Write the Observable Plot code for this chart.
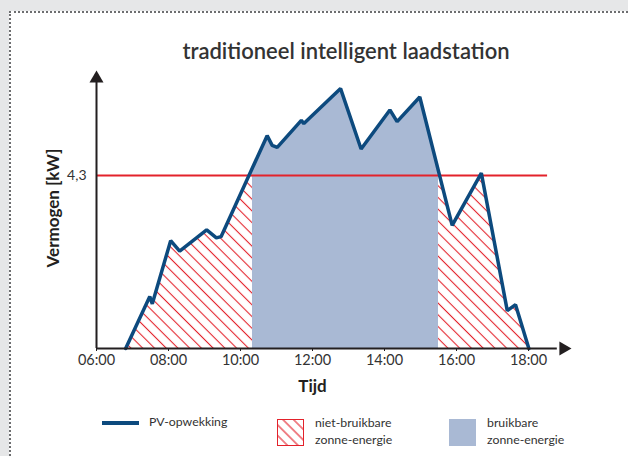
<!DOCTYPE html>
<html>
<head>
<meta charset="utf-8">
<script src="https://cdn.jsdelivr.net/npm/d3@7"></script>
<script src="https://cdn.jsdelivr.net/npm/@observablehq/plot@0.6"></script>
<style>
  html, body { margin: 0; padding: 0; }
  body { width: 628px; height: 456px; background: #e6e7e8; position: relative; overflow: hidden; font-family: Lato, "Open Sans", sans-serif; color: #222; }
  #card { position: absolute; left: 9px; top: 11px; width: 625px; height: 450px; background: #fff; border-top: 2px dotted #6d6e70; border-left: 2px dotted #6d6e70; }
  #chart { position: absolute; left: 0; top: 0; }
  .title { position: absolute; left: 146px; width: 400px; top: 37px; text-align: center; font-size: 22px; font-weight: 600; color: #333; white-space: nowrap; }
  .leg { position: absolute; font-size: 12.3px; color: #333; line-height: 17px; }
  .swatch { position: absolute; }
</style>
</head>
<body>
<div id="card"></div>
<div class="title">traditioneel intelligent laadstation</div>
<div id="chart"></div>
<div id="legend"></div>
<script>
// ---- data ----
const times = [6.81, 7.48, 7.55, 8.06, 8.31, 9.06, 9.33, 9.46, 10.74, 10.88, 11.02, 11.69, 11.76, 12.78, 13.35, 14.15, 14.35, 14.98, 15.88, 16.69, 17.41, 17.64, 18.01];
const power = [0, 1.29, 1.11, 2.68, 2.42, 2.95, 2.75, 2.78, 5.29, 5.05, 5.00, 5.67, 5.59, 6.46, 4.96, 5.93, 5.64, 6.25, 3.06, 4.36, 0.94, 1.09, 0];
const threshold = 4.3;
const usableStart = 10.333;
const usableEnd = 15.5;
const redLineEnd = 18.53;
const xTicks = [6, 8, 10, 12, 14, 16, 18];
const xTickLabels = ["06:00", "08:00", "10:00", "12:00", "14:00", "16:00", "18:00"];
const yTicks = [4.3];
const yTickLabels = ["4,3"];
const xLabel = "Tijd";
const yLabel = "Vermogen [kW]";
const legendLabels = ["PV-opwekking", "niet-bruikbare\nzonne-energie", "bruikbare\nzonne-energie"];

// ---- colours ----
const navy = "#0d4a7e", red = "#e3222b", blueFill = "#a9b9d4", axisCol = "#231f20";

const pts = times.map((t, i) => ({t, v: power[i]}));
function interp(t) {
  for (let i = 0; i < times.length - 1; i++) {
    if (t >= times[i] && t <= times[i + 1]) {
      const f = (t - times[i]) / (times[i + 1] - times[i]);
      return power[i] + f * (power[i + 1] - power[i]);
    }
  }
  return 0;
}
// first upward crossing of the threshold
let tc1 = usableStart;
for (let i = 0; i < times.length - 1; i++) {
  if (power[i] < threshold && power[i + 1] >= threshold) {
    tc1 = times[i] + (threshold - power[i]) / (power[i + 1] - power[i]) * (times[i + 1] - times[i]);
    break;
  }
}

// usable (blue) region
const blue = [];
blue.push({t: tc1, y1: threshold, y2: threshold});
pts.filter(p => p.t > tc1 && p.t < usableStart).forEach(p => blue.push({t: p.t, y1: threshold, y2: p.v}));
blue.push({t: usableStart, y1: threshold, y2: interp(usableStart)});
blue.push({t: usableStart, y1: 0, y2: interp(usableStart)});
pts.filter(p => p.t > usableStart && p.t < usableEnd).forEach(p => blue.push({t: p.t, y1: 0, y2: p.v}));
blue.push({t: usableEnd, y1: 0, y2: interp(usableEnd)});

// non-usable (hatched) regions
const hatchLeft = pts.filter(p => p.t < tc1).map(p => ({t: p.t, v: Math.min(p.v, threshold)}));
hatchLeft.push({t: tc1, v: threshold});
hatchLeft.push({t: usableStart, v: threshold});
const hatchRight = [{t: usableEnd, v: interp(usableEnd)}].concat(pts.filter(p => p.t > usableEnd));

const chart = Plot.plot({
  width: 628,
  height: 456,
  marginLeft: 96,
  marginRight: 64,
  marginTop: 72,
  marginBottom: 108,
  x: {domain: [6, 19]},
  y: {domain: [0, 6.86]},
  style: {background: "transparent", fontFamily: "Lato, 'Open Sans', sans-serif", color: axisCol},
  marks: [
    Plot.areaY(blue, {x: "t", y1: "y1", y2: "y2", fill: blueFill}),
    Plot.areaY(hatchLeft, {x: "t", y1: 0, y2: "v", fill: "url(#hatch)"}),
    Plot.areaY(hatchRight, {x: "t", y1: 0, y2: "v", fill: "url(#hatch)"}),
    Plot.ruleY([threshold], {x1: 6, x2: redLineEnd, stroke: red, strokeWidth: 2}),
    Plot.line(pts, {x: "t", y: "v", stroke: navy, strokeWidth: 3.5, strokeLinejoin: "miter"}),
    Plot.ruleX([6], {y1: 0, y2: 6.72, stroke: axisCol, strokeWidth: 2}),
    Plot.ruleY([0], {x1: 6, x2: 18.8, stroke: axisCol, strokeWidth: 2}),
    Plot.dot([{t: 6, v: 6.71}], {x: "t", y: "v", symbol: "triangle", r: 5.2, fill: axisCol, stroke: null}),
    Plot.dot([{t: 18.97, v: 0}], {x: "t", y: "v", symbol: "triangle", r: 5.2, fill: axisCol, stroke: null, rotate: 90}),
    Plot.axisX(xTicks, {tickSize: 3, tickPadding: 3, fontSize: 14.5, tickFormat: (d) => xTickLabels[xTicks.indexOf(d)], label: null, stroke: axisCol, fill: "#333"}),
    Plot.axisY(yTicks, {tickSize: 0, tickPadding: 10, fontSize: 14, tickFormat: (d) => yTickLabels[yTicks.indexOf(d)], label: null, fill: "#333"}),
    Plot.text([xLabel], {x: 12, y: 0, dy: 38, fontSize: 17, fontWeight: "bold", fill: axisCol}),
    Plot.text([yLabel], {x: 6, y: 3.49, dx: -43, rotate: -90, fontSize: 17, fontWeight: "bold", fill: axisCol, letterSpacing: 0.5})
  ]
});

const ns = "http://www.w3.org/2000/svg";
const defs = document.createElementNS(ns, "defs");
defs.innerHTML = `<pattern id="hatch" patternUnits="userSpaceOnUse" width="8.3" height="8.3" patternTransform="rotate(45)"><line x1="0" y1="4.15" x2="8.3" y2="4.15" stroke="${red}" stroke-width="1.1"/></pattern>`;
chart.insertBefore(defs, chart.firstChild);
document.getElementById("chart").appendChild(chart);

// ---- legend ----
const leg = document.getElementById("legend");
leg.innerHTML = `
  <div class="swatch" style="left:102px;top:421px;width:37px;height:4px;background:${navy}"></div>
  <div class="leg" style="left:149px;top:413px">${legendLabels[0]}</div>
  <svg class="swatch" style="left:277px;top:419px" width="27" height="27"><defs><pattern id="hatch2" patternUnits="userSpaceOnUse" width="7.5" height="7.5" patternTransform="rotate(45)"><line x1="0" y1="3.75" x2="7.5" y2="3.75" stroke="${red}" stroke-width="1.1"/></pattern></defs><rect x="0.5" y="0.5" width="26" height="26" fill="url(#hatch2)" stroke="${red}" stroke-width="1"/></svg>
  <div class="leg" style="left:315px;top:414px;white-space:pre">${legendLabels[1]}</div>
  <div class="swatch" style="left:449px;top:419px;width:27px;height:27px;background:${blueFill}"></div>
  <div class="leg" style="left:487px;top:414px;white-space:pre">${legendLabels[2]}</div>
`;
</script>
</body>
</html>
